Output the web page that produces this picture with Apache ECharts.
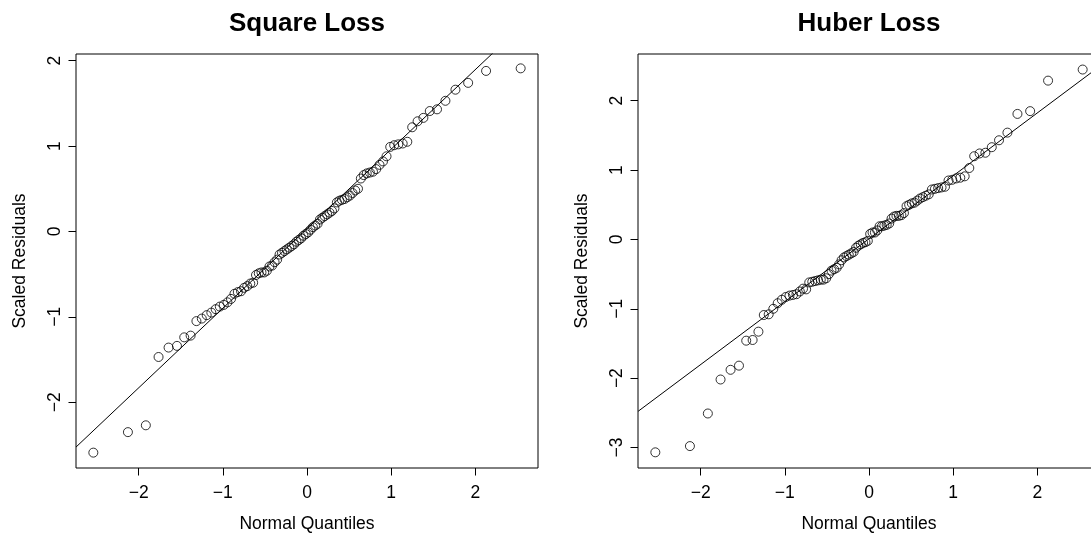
<!DOCTYPE html>
<html>
<head>
<meta charset="utf-8">
<script src="https://cdn.jsdelivr.net/npm/echarts@6/dist/echarts.min.js"></script>
<style>
html,body{margin:0;padding:0;background:#fff;}
#chart{width:1091px;height:533px;}
</style>
</head>
<body>
<div id="chart"></div>
<script>
// Normal quantiles (x positions: 90 points)
const normalQuantiles = [
  -2.539,-2.128,-1.915,-1.764,-1.645,-1.545,-1.459,-1.383,-1.314,-1.250,
  -1.192,-1.137,-1.085,-1.036,-0.989,-0.945,-0.903,-0.862,-0.822,-0.784,
  -0.747,-0.710,-0.674,-0.640,-0.606,-0.573,-0.541,-0.509,-0.477,-0.446,
  -0.415,-0.385,-0.355,-0.326,-0.297,-0.268,-0.240,-0.210,-0.182,-0.154,
  -0.126,-0.098,-0.070,-0.042,-0.014,0.014,0.042,0.070,0.098,0.126,
  0.154,0.182,0.210,0.240,0.268,0.297,0.326,0.355,0.385,0.415,
  0.446,0.477,0.509,0.541,0.573,0.606,0.640,0.674,0.710,0.747,
  0.784,0.822,0.862,0.903,0.945,0.989,1.036,1.085,1.137,1.192,
  1.250,1.314,1.383,1.459,1.545,1.645,1.764,1.915,2.128,2.539
];
// Scaled residuals, Square Loss
const squareLoss = [
  -2.59,-2.35,-2.27,-1.47,-1.36,-1.34,-1.24,-1.22,-1.05,-1.02,
  -0.98,-0.95,-0.91,-0.88,-0.86,-0.83,-0.79,-0.73,-0.71,-0.70,
  -0.66,-0.64,-0.61,-0.60,-0.51,-0.49,-0.48,-0.48,-0.46,-0.41,
  -0.40,-0.36,-0.33,-0.27,-0.25,-0.23,-0.21,-0.19,-0.17,-0.15,
  -0.12,-0.10,-0.08,-0.05,-0.03,-0.01,0.02,0.05,0.07,0.09,
  0.14,0.16,0.18,0.20,0.22,0.24,0.27,0.34,0.36,0.37,
  0.38,0.40,0.42,0.45,0.48,0.50,0.62,0.66,0.68,0.69,
  0.70,0.73,0.78,0.82,0.88,0.99,1.01,1.02,1.03,1.05,
  1.22,1.29,1.33,1.41,1.43,1.53,1.66,1.74,1.88,1.91
];
// Scaled residuals, Huber Loss
const huberLoss = [
  -3.07,-2.98,-2.51,-2.02,-1.88,-1.82,-1.46,-1.45,-1.33,-1.09,
  -1.08,-1.00,-0.92,-0.87,-0.83,-0.81,-0.80,-0.79,-0.75,-0.71,
  -0.72,-0.62,-0.61,-0.60,-0.59,-0.58,-0.58,-0.56,-0.50,-0.45,
  -0.43,-0.41,-0.36,-0.30,-0.26,-0.24,-0.22,-0.20,-0.18,-0.12,
  -0.09,-0.07,-0.05,-0.04,-0.02,0.08,0.10,0.10,0.13,0.19,
  0.19,0.20,0.21,0.23,0.30,0.33,0.34,0.34,0.35,0.38,
  0.48,0.50,0.52,0.53,0.56,0.59,0.61,0.63,0.65,0.72,
  0.73,0.74,0.75,0.76,0.85,0.86,0.88,0.89,0.91,1.03,
  1.20,1.24,1.25,1.33,1.43,1.54,1.81,1.85,2.29,2.45
];
// Reference (qq) lines: endpoints
const squareLineX = [-2.745, 2.745];
const squareLineY = [-2.525, 2.589];
const huberLineX = [-2.743, 2.743];
const huberLineY = [-2.478, 2.498];
// Axis ticks
const xTicks = [-2, -1, 0, 1, 2];
const squareYTicks = [-2, -1, 0, 1, 2];
const huberYTicks = [-3, -2, -1, 0, 1, 2];
const titles = ['Square Loss', 'Huber Loss'];
const xTitle = 'Normal Quantiles';
const yTitle = 'Scaled Residuals';

const FONT = "'Liberation Sans', Arial, Helvetica, sans-serif";
const fmt = v => (v < 0 ? '\u2212' : '') + Math.abs(v);

function pairs(xs, ys) { return xs.map((x, i) => [x, ys[i]]); }

function xAxisCfg(gi) {
  return {
    type: 'value', gridIndex: gi, min: -2.745, max: 2.745, position: 'bottom',
    splitLine: { show: false },
    axisLine: { show: false, onZero: false },
    axisTick: { show: true, customValues: xTicks, length: 7.5, inside: false,
      lineStyle: { color: '#000', width: 1 } },
    axisLabel: { show: true, customValues: xTicks, formatter: fmt, margin: 16,
      color: '#000', fontSize: 17.5, fontFamily: FONT },
    name: xTitle, nameLocation: 'middle', nameGap: 47,
    nameTextStyle: { color: '#000', fontSize: 17.5, fontFamily: FONT }
  };
}
function yAxisCfg(gi, min, max, ticks) {
  return {
    type: 'value', gridIndex: gi, min: min, max: max, position: 'left',
    splitLine: { show: false },
    axisLine: { show: false, onZero: false },
    axisTick: { show: true, customValues: ticks, length: 7.5, inside: false,
      lineStyle: { color: '#000', width: 1 } },
    axisLabel: { show: true, customValues: ticks, formatter: fmt, margin: 12, rotate: 90,
      color: '#000', fontSize: 17.5, fontFamily: FONT },
    name: yTitle, nameLocation: 'middle', nameGap: 47,
    nameTextStyle: { color: '#000', fontSize: 17.5, fontFamily: FONT }
  };
}
const pointStyle = { color: 'rgba(0,0,0,0)', borderColor: '#000', borderWidth: 1 };

const chart = echarts.init(document.getElementById('chart'), null, { renderer: 'canvas' });
chart.setOption({
  backgroundColor: '#fff',
  animation: false,
  title: [
    { text: titles[0], left: 307, top: 11, textAlign: 'center', padding: 0,
      textStyle: { fontSize: 26, fontWeight: 'bold', color: '#000', fontFamily: FONT } },
    { text: titles[1], left: 869, top: 11, textAlign: 'center', padding: 0,
      textStyle: { fontSize: 26, fontWeight: 'bold', color: '#000', fontFamily: FONT } }
  ],
  grid: [
    { left: 76, top: 54, width: 462, height: 414, show: true, borderColor: '#000', borderWidth: 1,
      backgroundColor: 'transparent', containLabel: false, outerBoundsMode: 'none' },
    { left: 638, top: 54, width: 462, height: 414, show: true, borderColor: '#000', borderWidth: 1,
      backgroundColor: 'transparent', containLabel: false, outerBoundsMode: 'none' }
  ],
  xAxis: [ xAxisCfg(0), xAxisCfg(1) ],
  yAxis: [ yAxisCfg(0, -2.77, 2.078, squareYTicks), yAxisCfg(1, -3.296, 2.674, huberYTicks) ],
  series: [
    { type: 'line', xAxisIndex: 0, yAxisIndex: 0, data: pairs(squareLineX, squareLineY),
      showSymbol: false, symbol: 'none', clip: true, silent: true,
      lineStyle: { color: '#000', width: 1 } },
    { type: 'scatter', xAxisIndex: 0, yAxisIndex: 0, data: pairs(normalQuantiles, squareLoss),
      symbol: 'circle', symbolSize: 9, itemStyle: pointStyle, silent: true },
    { type: 'line', xAxisIndex: 1, yAxisIndex: 1, data: pairs(huberLineX, huberLineY),
      showSymbol: false, symbol: 'none', clip: true, silent: true,
      lineStyle: { color: '#000', width: 1 } },
    { type: 'scatter', xAxisIndex: 1, yAxisIndex: 1, data: pairs(normalQuantiles, huberLoss),
      symbol: 'circle', symbolSize: 9, itemStyle: pointStyle, silent: true }
  ]
});
</script>
</body>
</html>
